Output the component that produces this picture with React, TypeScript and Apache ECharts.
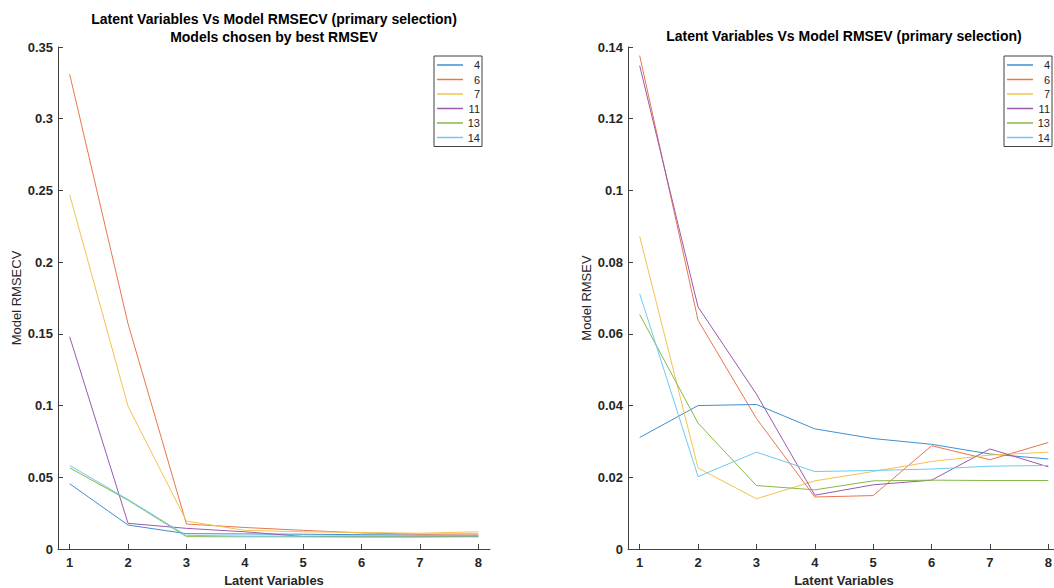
import React, { useEffect, useRef } from "react";
import * as echarts from "echarts";

const latentVariables = [1, 2, 3, 4, 5, 6, 7, 8];
const modelNames = ["4", "6", "7", "11", "13", "14"];
const colors = ["#3f8fd2", "#e9764c", "#f3c24f", "#9a5aae", "#86b84a", "#6ccbf2"];

// Left: Model RMSECV
const rmsecv4 = [0.0455, 0.0167, 0.0107, 0.0105, 0.0103, 0.01, 0.0097, 0.0095];
const rmsecv6 = [0.331, 0.157, 0.0174, 0.015, 0.013, 0.0112, 0.0103, 0.0105];
const rmsecv7 = [0.247, 0.0995, 0.0195, 0.013, 0.012, 0.0115, 0.011, 0.012];
const rmsecv11 = [0.148, 0.0179, 0.0144, 0.012, 0.0087, 0.0085, 0.0085, 0.0088];
const rmsecv13 = [0.0566, 0.034, 0.0086, 0.0085, 0.0085, 0.0085, 0.0085, 0.0085];
const rmsecv14 = [0.0583, 0.0345, 0.0095, 0.009, 0.009, 0.0092, 0.0092, 0.0092];

// Right: Model RMSEV
const rmsev4 = [0.0311, 0.04, 0.0403, 0.0335, 0.0308, 0.0292, 0.0265, 0.0251];
const rmsev6 = [0.1376, 0.0638, 0.0364, 0.0145, 0.0149, 0.0288, 0.0249, 0.0297];
const rmsev7 = [0.0872, 0.0226, 0.014, 0.019, 0.0216, 0.0244, 0.0262, 0.027];
const rmsev11 = [0.1348, 0.0675, 0.0432, 0.015, 0.0179, 0.0192, 0.0279, 0.0229];
const rmsev13 = [0.0654, 0.0351, 0.0177, 0.0165, 0.019, 0.0192, 0.0191, 0.0191];
const rmsev14 = [0.0712, 0.0202, 0.027, 0.0216, 0.0219, 0.0223, 0.0231, 0.0233];

const leftTitle1 = "Latent Variables Vs Model RMSECV (primary selection)";
const leftTitle2 = "Models chosen by best RMSEV";
const rightTitle = "Latent Variables Vs Model RMSEV (primary selection)";

const leftSets = [rmsecv4, rmsecv6, rmsecv7, rmsecv11, rmsecv13, rmsecv14];
const rightSets = [rmsev4, rmsev6, rmsev7, rmsev11, rmsev13, rmsev14];

const FONT = "'Liberation Sans', Arial, Helvetica, sans-serif";
const AXIS = "#404040";
const TEXT = "#262626";

function xAxis(gridIndex: number) {
  return {
    type: "value",
    gridIndex,
    min: 0.8,
    max: 8.2,
    name: "Latent Variables",
    nameLocation: "middle",
    nameGap: 24,
    nameTextStyle: { fontFamily: FONT, fontSize: 13, fontWeight: "bold", color: TEXT },
    axisLine: { show: true, lineStyle: { color: AXIS, width: 1 } },
    axisTick: { show: true, inside: true, length: 5, customValues: latentVariables, lineStyle: { color: AXIS } },
    axisLabel: {
      customValues: latentVariables,
      margin: 7,
      fontFamily: FONT,
      fontSize: 13,
      fontWeight: "bold",
      color: TEXT,
    },
    splitLine: { show: false },
  };
}

function yAxis(gridIndex: number, max: number, interval: number, name: string) {
  return {
    type: "value",
    gridIndex,
    min: 0,
    max,
    interval,
    name,
    nameLocation: "middle",
    nameGap: 35,
    nameTextStyle: { fontFamily: FONT, fontSize: 13, color: TEXT },
    axisLine: { show: true, lineStyle: { color: AXIS, width: 1 } },
    axisTick: { show: true, inside: true, length: 5, lineStyle: { color: AXIS } },
    axisLabel: {
      margin: 5,
      fontFamily: FONT,
      fontSize: 13,
      fontWeight: "bold",
      color: TEXT,
    },
    splitLine: { show: false },
  };
}

function legend(left: number) {
  return {
    show: true,
    orient: "vertical",
    left,
    top: 56,
    data: modelNames.map((n, i) => ({ name: n, itemStyle: { color: colors[i] } })),
    padding: [3, 2, 3, 3],
    icon: "rect",
    itemWidth: 26,
    itemHeight: 1.5,
    itemGap: 2.5,
    borderColor: AXIS,
    borderWidth: 1,
    backgroundColor: "#ffffff",
    selectedMode: false,
    formatter: (n: string) => "{a|" + n + "}",
    textStyle: {
      fontFamily: FONT,
      fontSize: 11,
      color: TEXT,
      lineHeight: 12,
      rich: { a: { width: 12, align: "right", lineHeight: 12, fontFamily: FONT, fontSize: 11, color: TEXT } },
    },
  };
}

export default function App() {
  const ref = useRef<HTMLDivElement>(null);
  useEffect(() => {
    if (!ref.current) return;
    const chart = echarts.init(ref.current, undefined, { renderer: "svg" });
    const series: any[] = [];
    leftSets.forEach((vals, i) => {
      series.push({
        type: "line",
        name: modelNames[i],
        xAxisIndex: 0,
        yAxisIndex: 0,
        data: latentVariables.map((x, k) => [x, vals[k]]),
        symbol: "none",
        lineStyle: { width: 1, color: colors[i] },
        itemStyle: { color: colors[i] },
      });
    });
    rightSets.forEach((vals, i) => {
      series.push({
        type: "line",
        name: modelNames[i],
        xAxisIndex: 1,
        yAxisIndex: 1,
        data: latentVariables.map((x, k) => [x, vals[k]]),
        symbol: "none",
        lineStyle: { width: 1, color: colors[i] },
        itemStyle: { color: colors[i] },
      });
    });
    chart.setOption({
      animation: false,
      backgroundColor: "#ffffff",
      grid: [
        { left: 58, right: 1054 - 490, top: 47, bottom: 39, outerBoundsMode: "none", containLabel: false },
        { left: 628, right: -6, top: 47, bottom: 39, outerBoundsMode: "none", containLabel: false },
      ],
      xAxis: [xAxis(0), xAxis(1)],
      yAxis: [
        yAxis(0, 0.35, 0.05, "Model RMSECV"),
        yAxis(1, 0.14, 0.02, "Model RMSEV"),
      ],
      legend: [legend(434), legend(1004)],
      graphic: [
        {
          type: "text",
          x: 274,
          y: 19,
          style: { text: leftTitle1, textAlign: "center", textVerticalAlign: "middle", font: "bold 14px " + FONT, fill: "#000" },
        },
        {
          type: "text",
          x: 274,
          y: 37,
          style: { text: leftTitle2, textAlign: "center", textVerticalAlign: "middle", font: "bold 14px " + FONT, fill: "#000" },
        },
        {
          type: "text",
          x: 844,
          y: 36,
          style: { text: rightTitle, textAlign: "center", textVerticalAlign: "middle", font: "bold 14px " + FONT, fill: "#000" },
        },
      ],
      series,
    });
    return () => chart.dispose();
  }, []);
  return (
    <div
      ref={ref}
      style={{ position: "fixed", left: 0, top: 0, width: 1054, height: 588, background: "#fff" }}
    />
  );
}
